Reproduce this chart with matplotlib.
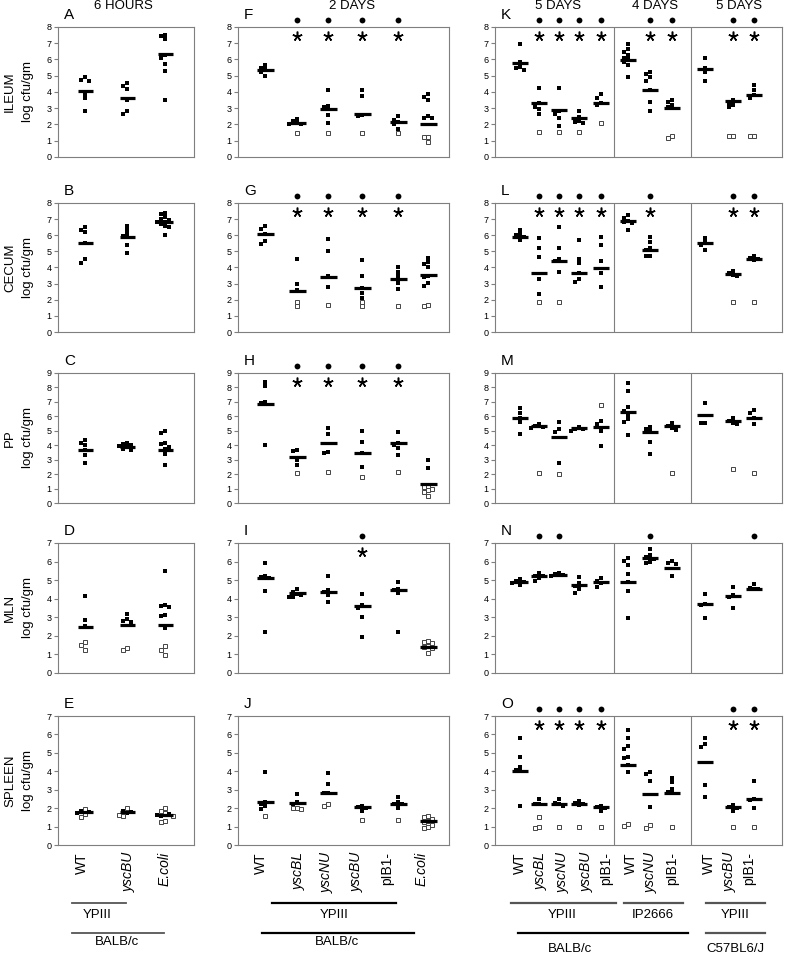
import matplotlib
matplotlib.use('Agg')
import matplotlib.pyplot as plt
from matplotlib.lines import Line2D

plt.rcParams['font.family'] = ['Liberation Sans', 'DejaVu Sans']

W, H = 787, 955

# ---------------- categories ----------------
groups_6h = ['WT', 'yscBU', 'E.coli']
groups_2d = ['WT', 'yscBL', 'yscNU', 'yscBU', 'pIB1-', 'E.coli']
groups_5d = ['WT', 'yscBL', 'yscNU', 'yscBU', 'pIB1-',
             'WT', 'yscNU', 'pIB1-', 'WT', 'yscBU', 'pIB1-']
italic_names = {'yscBU', 'yscBL', 'yscNU', 'E.coli'}
organs = ['ILEUM', 'CECUM', 'PP', 'MLN', 'SPLEEN']
organ_ymax = [8, 8, 9, 7, 7]

# ---------------- 6 hours ----------------
A_fill = [[4.9, 4.75, 4.7, 3.9, 3.6, 2.8], [4.55, 4.35, 4.2, 3.5, 2.85, 2.65],
          [7.5, 7.45, 7.25, 6.3, 6.1, 5.7, 5.3, 3.5]]
A_open = [[], [], []]
A_mid = [4.05, 3.63, 6.35]

B_fill = [[6.5, 6.3, 6.2, 5.5, 4.5, 4.3], [6.55, 6.3, 6.05, 5.95, 5.4, 4.9],
          [7.4, 7.3, 7.15, 7.0, 6.95, 6.85, 6.8, 6.7, 6.6, 6.5, 6.0]]
B_open = [[], [], []]
B_mid = [5.5, 5.9, 6.83]

C_fill = [[4.35, 4.15, 4.0, 3.7, 3.35, 2.75], [4.15, 4.1, 4.0, 3.95, 3.85, 3.75, 3.7],
          [5.0, 4.85, 4.15, 4.05, 3.9, 3.75, 3.4, 2.6]]
C_open = [[], [], []]
C_mid = [3.67, 3.9, 3.65]

D_fill = [[4.15, 2.85, 2.55], [3.2, 2.9, 2.8, 2.75],
          [5.5, 3.65, 3.6, 3.55, 3.15, 3.05, 2.4]]
D_open = [[1.65, 1.5, 1.25], [1.35, 1.25], [1.45, 1.25, 0.95]]
D_mid = [2.5, 2.6, 2.6]

E_fill = [[1.85, 1.8, 1.75], [1.85, 1.8, 1.75], [1.7, 1.65, 1.6]]
E_open = [[1.95, 1.7, 1.5], [2.0, 1.65, 1.55], [2.0, 1.85, 1.75, 1.55, 1.3, 1.25]]
E_mid = [1.78, 1.78, 1.63]

# ---------------- 2 days ----------------
F_fill = [[5.65, 5.5, 5.4, 5.2, 5.0], [2.35, 2.2, 2.1, 2.05, 2.0],
          [4.15, 3.15, 3.05, 2.6, 2.1], [4.1, 3.75, 2.6, 2.55],
          [2.5, 2.3, 2.15, 2.0, 1.75], [3.85, 3.7, 3.5, 2.55, 2.4, 2.4]]
F_open = [[], [1.5], [1.5], [1.5], [1.5], [1.25, 1.25, 0.9]]
F_mid = [5.37, 2.1, 2.93, 2.67, 2.15, 2.0]
F_dot = [1, 2, 3, 4]
F_star = [1, 2, 3, 4]

G_fill = [[6.6, 6.4, 6.1, 5.65, 5.45], [4.55, 3.0, 2.6], [5.75, 5.0, 3.45, 2.8],
          [4.45, 3.45, 2.75, 2.4, 2.1], [4.0, 3.75, 3.45, 3.05, 2.65],
          [4.6, 4.35, 4.2, 4.0, 3.5, 3.4, 3.05, 2.85]]
G_open = [[], [1.85, 1.6], [1.65], [1.85, 1.6], [1.6], [1.65, 1.6]]
G_mid = [6.07, 2.57, 3.43, 2.72, 3.27, 3.55]
G_dot = [1, 2, 3, 4]
G_star = [1, 2, 3, 4]

H_fill = [[8.4, 8.1, 7.0, 6.9, 4.0], [3.65, 3.6, 2.95, 2.6], [5.2, 4.75, 3.5, 3.45],
          [5.0, 4.2, 3.45, 2.5], [4.9, 4.15, 4.0, 3.8, 3.3], [2.95, 2.4]]
H_open = [[], [2.1], [2.15], [1.8], [2.15], [1.2, 1.1, 1.0, 0.9, 0.75, 0.45]]
H_mid = [6.85, 3.15, 4.15, 3.45, 4.15, 1.3]
H_dot = [1, 2, 3, 4]
H_star = [1, 2, 3, 4]

I_fill = [[5.95, 5.2, 5.15, 5.1, 4.4, 2.2], [4.55, 4.35, 4.25, 4.2, 4.1, 4.1],
          [5.25, 4.45, 4.35, 4.2, 3.8], [4.25, 3.65, 3.5, 3.0, 1.95],
          [4.9, 4.55, 4.45, 4.3, 2.2], []]
I_open = [[], [], [], [], [], [1.7, 1.65, 1.6, 1.45, 1.4, 1.35, 1.1]]
I_mid = [5.1, 4.3, 4.35, 3.6, 4.45, 1.42]
I_dot = [3]
I_star = [3]

J_fill = [[3.95, 2.35, 2.2, 2.1, 1.95], [2.75, 2.35, 2.25], [3.9, 3.3, 2.8, 2.8],
          [2.1, 2.05, 2.0, 1.85], [2.6, 2.35, 2.25, 2.2, 2.0], []]
J_open = [[1.55], [2.0, 2.0, 1.95], [2.2, 2.1], [1.35], [1.35],
          [1.55, 1.5, 1.4, 1.3, 1.25, 1.1, 1.0, 0.9]]
J_mid = [2.35, 2.27, 2.8, 2.05, 2.25, 1.3]
J_dot = []
J_star = []

# ---------------- 5 / 4 / 5 days ----------------
K_fill = [[6.95, 5.85, 5.55, 5.5, 5.35], [4.25, 3.3, 3.1, 2.95, 2.65],
          [4.25, 2.85, 2.65, 2.4, 1.9], [2.85, 2.45, 2.2, 2.15, 2.1],
          [3.85, 3.65, 3.3, 3.2], [6.95, 6.65, 6.45, 6.3, 6.1, 6.0, 5.85, 5.65, 4.95],
          [5.25, 5.1, 4.9, 4.7, 4.15, 3.4, 2.85], [3.5, 3.4, 3.2, 3.1],
          [6.1, 5.45, 5.2, 4.7], [3.5, 3.3, 3.2, 3.05], [4.4, 4.15, 3.8, 3.65]]
K_open = [[], [1.55], [1.55], [1.55], [2.1], [], [], [1.3, 1.15], [], [1.3, 1.3], [1.3, 1.3]]
K_mid = [5.78, 3.32, 2.87, 2.4, 3.3, 5.99, 4.14, 3.04, 5.4, 3.45, 3.8]
K_dot = [1, 2, 3, 4, 6, 7, 9, 10]
K_star = [1, 2, 3, 4, 6, 7, 9, 10]

L_fill = [[6.35, 6.1, 6.0, 5.9, 5.7], [5.8, 5.2, 4.65, 3.3, 2.35],
          [6.5, 5.2, 4.55, 4.4, 3.7], [5.7, 4.55, 4.3, 3.65, 3.3, 3.1],
          [5.9, 5.4, 4.4, 3.65, 2.8], [7.25, 7.05, 6.9, 6.8, 6.75, 6.3],
          [5.9, 5.6, 5.2, 5.1, 4.7, 4.7], [], [5.85, 5.6, 5.4, 5.1],
          [3.8, 3.65, 3.55, 3.5], [4.7, 4.6, 4.5, 4.45]]
L_open = [[], [1.85], [1.85], [], [], [], [], [], [], [1.85], [1.85]]
L_mid = [5.9, 3.64, 4.4, 3.64, 3.95, 6.9, 5.08, None, 5.5, 3.6, 4.53]
L_dot = [1, 2, 3, 4, 6, 9, 10]
L_star = [1, 2, 3, 4, 6, 9, 10]

M_fill = [[6.6, 6.2, 5.9, 5.6, 4.8], [5.45, 5.35, 5.25, 5.2], [5.6, 5.15, 4.9, 2.8],
          [5.25, 5.15, 5.1, 5.0], [5.7, 5.45, 5.0, 3.95],
          [8.3, 7.75, 6.65, 6.4, 6.1, 5.8, 5.6, 4.7], [5.25, 5.1, 4.95, 4.25, 3.4],
          [5.55, 5.3, 5.2, 5.05], [6.9, 5.55, 5.55], [5.85, 5.7, 5.55, 5.45],
          [6.45, 6.2, 5.9, 5.45]]
M_open = [[], [2.1], [2.0], [], [6.75], [], [], [2.1], [], [2.35], [2.1]]
M_mid = [5.85, 5.3, 4.55, 5.18, 5.25, 6.3, 4.9, 5.3, 6.1, 5.67, 5.9]
M_dot = []
M_star = []

N_fill = [[5.05, 4.95, 4.9, 4.85, 4.75], [5.4, 5.25, 5.2, 5.1, 4.95],
          [5.4, 5.35, 5.3, 5.25], [5.15, 4.85, 4.7, 4.5, 4.3], [5.1, 4.95, 4.85, 4.65],
          [6.2, 6.05, 5.8, 5.35, 4.9, 4.4, 2.95], [6.65, 6.35, 6.25, 6.15, 6.0, 5.9],
          [6.05, 5.95, 5.85, 5.2], [4.25, 3.7, 3.65, 2.95], [4.65, 4.2, 4.1, 3.5],
          [4.8, 4.6, 4.55, 4.5]]
N_open = [[] for _ in range(11)]
N_mid = [4.9, 5.2, 5.3, 4.75, 4.92, 4.9, 6.2, 5.65, 3.7, 4.15, 4.55]
N_dot = [1, 2, 6, 10]
N_star = []

O_fill = [[5.8, 4.8, 4.25, 4.05, 4.0, 2.1], [2.5, 2.25, 2.2], [2.5, 2.3, 2.25, 2.1],
          [2.4, 2.3, 2.2, 2.15], [2.1, 2.05, 2.0, 1.85],
          [6.25, 5.8, 5.35, 5.2, 4.8, 4.7, 4.35, 3.95], [3.95, 3.85, 3.5, 2.05],
          [3.65, 3.4, 3.05, 2.85, 2.8], [5.8, 5.5, 5.3, 3.25, 2.6],
          [2.15, 2.05, 2.0, 1.85], [3.45, 2.5, 2.45, 2.0]]
O_open = [[], [1.5, 1.0, 0.9], [0.95], [0.95], [0.95], [1.15, 1.05], [1.1, 0.9],
          [0.95], [], [0.95], [0.95]]
O_mid = [4.0, 2.25, 2.25, 2.2, 2.05, 4.35, 2.75, 2.8, 4.5, 2.05, 2.5]
O_dot = [1, 2, 3, 4, 9, 10]
O_star = [1, 2, 3, 4, 9, 10]

# ---------------- layout (pixels) ----------------
col_x = [(58, 194), (238, 449), (495, 782)]
row_y = [(27, 157), (203, 332), (373, 503), (543, 673), (716, 845)]
pos_6h = [85, 127, 165]
pos_2d = [265, 297, 328, 362, 398, 428]
pos_5d = [520, 539, 559, 579, 601, 628, 650, 672, 705, 733, 754]
lab_6h = [82, 129, 165]
lab_2d = [261, 299, 327, 357, 387, 422]
lab_5d = [520, 541, 563, 587, 606, 631, 651, 672, 709, 730, 749]
dividers = [614, 691]
GRAY = '#7f7f7f'

fig = plt.figure(figsize=(W / 100, H / 100), dpi=100)


def add_px_axes(left, top, right, bottom):
    return fig.add_axes([left / W, 1 - bottom / H, (right - left) / W, (bottom - top) / H])


def draw_panel(ax, xpos, fills, opens, mids, ymax, height_px, bar_w):
    ppu = height_px / ymax
    for x, f, o, m in zip(xpos, fills, opens, mids):
        pts = [(v, False) for v in f] + [(v, True) for v in o]
        placed = []
        for v, is_open in sorted(pts, key=lambda p: -p[0]):
            dx = 0
            for k in [0, -1, 1, -2, 2, -3, 3]:
                dx = k * 4.2
                if all(abs(dx - px) >= 4 or abs(v - pv) * ppu >= 4 for px, pv in placed):
                    break
            placed.append((dx, v))
            if is_open:
                ax.plot(x + dx, v, 's', mfc='white', mec='#444444', ms=3.3, mew=0.7, zorder=3)
            else:
                ax.plot(x + dx, v, 's', color='black', ms=3.3, mew=0, zorder=3)
        if m is not None:
            ax.plot([x - bar_w / 2, x + bar_w / 2], [m, m], color='black', lw=2.3,
                    solid_capstyle='butt', zorder=4)


def draw_sig(ax, xpos, dots, stars, ymax, height_px):
    ppu = height_px / ymax
    for i in dots:
        ax.plot(xpos[i], ymax + 7 / ppu, 'o', color='black', ms=4.2, mew=0, clip_on=False)
    for i in stars:
        ax.plot(xpos[i], ymax - 9 / ppu, marker=(5, 2, 0), color='black', ms=7, mew=1.1,
                clip_on=False)


def style_axes(ax, ymax, x0, x1):
    ax.set_xlim(x0, x1)
    ax.set_ylim(0, ymax)
    ax.set_yticks(range(0, ymax + 1))
    ax.set_xticks([])
    for s in ax.spines.values():
        s.set_color(GRAY)
        s.set_linewidth(0.8)
    ax.tick_params(axis='y', length=3, width=0.8, color=GRAY, labelsize=6.5, pad=1.5)


columns = [
    (pos_6h, [(A_fill, A_open, A_mid, [], []), (B_fill, B_open, B_mid, [], []),
              (C_fill, C_open, C_mid, [], []), (D_fill, D_open, D_mid, [], []),
              (E_fill, E_open, E_mid, [], [])], 'ABCDE', 15),
    (pos_2d, [(F_fill, F_open, F_mid, F_dot, F_star), (G_fill, G_open, G_mid, G_dot, G_star),
              (H_fill, H_open, H_mid, H_dot, H_star), (I_fill, I_open, I_mid, I_dot, I_star),
              (J_fill, J_open, J_mid, J_dot, J_star)], 'FGHIJ', 17),
    (pos_5d, [(K_fill, K_open, K_mid, K_dot, K_star), (L_fill, L_open, L_mid, L_dot, L_star),
              (M_fill, M_open, M_mid, M_dot, M_star), (N_fill, N_open, N_mid, N_dot, N_star),
              (O_fill, O_open, O_mid, O_dot, O_star)], 'KLMNO', 16),
]

for c, (xpos, panels, letters, bar_w) in enumerate(columns):
    x0, x1 = col_x[c]
    for r, (fills, opens, mids, dots, stars) in enumerate(panels):
        top, bottom = row_y[r]
        ymax = organ_ymax[r]
        ax = add_px_axes(x0, top, x1, bottom)
        style_axes(ax, ymax, x0, x1)
        if c == 2:
            for d in dividers:
                ax.axvline(d, color=GRAY, lw=0.8)
        draw_panel(ax, xpos, fills, opens, mids, ymax, bottom - top, bar_w)
        draw_sig(ax, xpos, dots, stars, ymax, bottom - top)
        fig.text((x0 + 6) / W, 1 - (top - 12) / H, letters[r], fontsize=11,
                 ha='left', va='center')
        if c == 0:
            mid = (top + bottom) / 2
            fig.text(10 / W, 1 - mid / H, organs[r], rotation=90, fontsize=9.5,
                     ha='center', va='center')
            fig.text(28 / W, 1 - mid / H, 'log cfu/gm', rotation=90, fontsize=9.5,
                     ha='center', va='center')

# column titles
for label, xc in [('6 HOURS', 123), ('2 DAYS', 352), ('5 DAYS', 558),
                  ('4 DAYS', 655), ('5 DAYS', 739)]:
    fig.text(xc / W, 1 - 6 / H, label, fontsize=9.5, ha='center', va='center')

# group labels under the bottom row
for names, xs in [(groups_6h, lab_6h), (groups_2d, lab_2d), (groups_5d, lab_5d)]:
    for name, xc in zip(names, xs):
        fig.text(xc / W, 1 - 852 / H, name, rotation=90, fontsize=10, ha='center', va='top',
                 fontstyle='italic' if name in italic_names else 'normal')

narrow = ['Liberation Sans Narrow', 'Liberation Sans', 'DejaVu Sans']
brackets = [
    (72, 126, 903, 'YPIII', 97, 915, '#555555', 1.3),
    (72, 164, 933, 'BALB/c', 117, 942, '#555555', 1.3),
    (272, 396, 903, 'YPIII', 334, 915, 'black', 1.6),
    (262, 414, 933, 'BALB/c', 337, 942, 'black', 1.6),
    (511, 616, 903, 'YPIII', 562, 915, '#555555', 1.6),
    (624, 683, 903, 'IP2666', 653, 915, '#555555', 1.6),
    (706, 765, 903, 'YPIII', 735, 915, '#555555', 1.6),
    (518, 688, 933, 'BALB/c', 570, 949, 'black', 1.6),
    (706, 765, 933, 'C57BL6/J', 735, 949, '#555555', 1.6),
]
for lx0, lx1, ly, txt, tx, ty, col, lw in brackets:
    fig.add_artist(Line2D([lx0 / W, lx1 / W], [1 - ly / H, 1 - ly / H], color=col, lw=lw,
                          transform=fig.transFigure))
    fig.text(tx / W, 1 - ty / H, txt, fontsize=9.5, ha='center', va='center', family=narrow)

fig.savefig('out.png', dpi=100)
